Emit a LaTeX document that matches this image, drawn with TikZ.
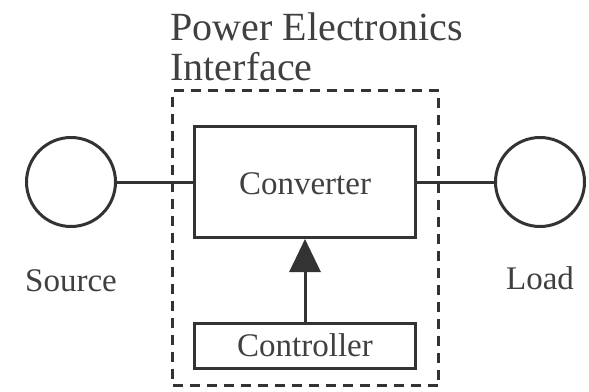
\documentclass[tikz,border=0pt]{standalone}
\usepackage{fontspec}
\setmainfont{Liberation Serif}
\usetikzlibrary{arrows.meta}
\usetikzlibrary{positioning}

\begin{document}
\begin{tikzpicture}[x=1pt,y=-1pt,line width=3pt,
  blockbox/.style={draw=black!80,rectangle,minimum width=221pt,inner sep=0pt},
  port/.style={draw=black!80,circle,minimum size=89pt,inner sep=0pt},
  lbl/.style={text=black!75,inner sep=0pt,font=\fontsize{33}{40}\selectfont},
  ttl/.style={text=black!75,inner sep=0pt,font=\fontsize{40}{40}\selectfont}]
\useasboundingbox (0,0) rectangle (589,391);
% interface frame
\node [draw=black!80,dash pattern=on 10pt off 7pt,minimum width=266pt,minimum height=295pt,inner sep=0pt] (pei) at (305.5,238) {};
\node [ttl,anchor=base west] (ttlA) at (169,40) {Power Electronics};
\node [ttl,anchor=base west] (ttlB) at (169,80) {Interface};
% blocks
\node [blockbox,minimum height=111pt] (conv) at (305,182) {};
\node [lbl,anchor=base] (convtxt) at (305,194) {Converter};
\node [blockbox,minimum height=45pt] (ctrl) at (305,346) {};
\node [lbl,anchor=base] (ctrltxt) at (305,356) {Controller};
% source and load
\node [port] (src) at (71,182) {};
\node [port] (load) at (540,182) {};
\node [lbl,anchor=base] (srctxt) at (71,291) {Source};
\node [lbl,anchor=base] (loadtxt) at (540,289) {Load};
\draw [black!80] (src.east) -- (conv.west);
\draw [black!80] (conv.east) -- (load.west);
\draw [black!80,-{Triangle[width=31pt,length=33pt]}] (ctrl.north) -- (conv.south);
\end{tikzpicture}
\end{document}
